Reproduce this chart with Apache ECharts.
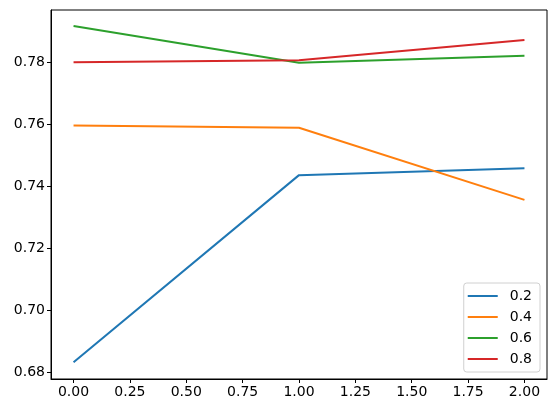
<!DOCTYPE html>
<html>
<head>
<meta charset="utf-8">
<script src="https://cdn.jsdelivr.net/npm/echarts@6/dist/echarts.min.js"></script>
<style>
  html, body { margin: 0; padding: 0; background: #fff; }
  #main { width: 556px; height: 413px; }
</style>
</head>
<body>
<div id="main"></div>
<script>
// x positions and the four series
var xValues = [0, 1, 2];
var seriesNames = ['0.2', '0.4', '0.6', '0.8'];
var s02 = [0.6831, 0.7435, 0.7457];
var s04 = [0.7595, 0.7588, 0.7355];
var s06 = [0.7916, 0.7798, 0.7820];
var s08 = [0.7799, 0.7806, 0.7871];
var xTicks = [0, 0.25, 0.5, 0.75, 1, 1.25, 1.5, 1.75, 2];
var yTicks = [0.68, 0.70, 0.72, 0.74, 0.76, 0.78];
var colors = ['#1f77b4', '#ff7f0e', '#2ca02c', '#d62728'];

var allData = [s02, s04, s06, s08];

function pairs(vals) {
    var out = [];
    for (var i = 0; i < vals.length; i++) {
        out.push([xValues[i], vals[i]]);
    }
    return out;
}

var chart = echarts.init(document.getElementById('main'));

var series = [];
for (var k = 0; k < seriesNames.length; k++) {
    series.push({
        name: seriesNames[k],
        type: 'line',
        data: pairs(allData[k]),
        symbol: 'none',
        showSymbol: false,
        animation: false,
        lineStyle: { width: 2, color: colors[k] },
        itemStyle: { color: colors[k] }
    });
}

var fontFamily = 'DejaVu Sans';

chart.setOption({
    animation: false,
    backgroundColor: '#fff',
    grid: {
        left: 51, right: 9, top: 10, bottom: 34,
        show: true, borderColor: '#000', borderWidth: 1
    },
    legend: {
        orient: 'vertical',
        right: 16,
        bottom: 41,
        icon: 'rect',
        itemWidth: 30,
        itemHeight: 2,
        itemGap: 5,
        padding: [5, 8, 5, 4],
        borderColor: '#d0d0d0',
        borderWidth: 1,
        borderRadius: 3,
        backgroundColor: '#fff',
        textStyle: { fontFamily: fontFamily, fontSize: 14, lineHeight: 16, color: '#000', padding: [0, 0, 0, 7] },
        data: seriesNames
    },
    xAxis: {
        type: 'value',
        min: -0.1,
        max: 2.1,
        splitLine: { show: false },
        axisLine: { show: true, onZero: false, lineStyle: { color: '#000' } },
        axisTick: { show: true, length: 4, lineStyle: { color: '#000' }, customValues: xTicks },
        axisLabel: {
            color: '#000', fontFamily: fontFamily, fontSize: 14, margin: 6,
            customValues: xTicks,
            formatter: function (v) { return v.toFixed(2); }
        }
    },
    yAxis: {
        type: 'value',
        min: 0.6777,
        max: 0.7968,
        splitLine: { show: false },
        axisLine: { show: true, onZero: false, lineStyle: { color: '#000' } },
        axisTick: { show: true, length: 4, lineStyle: { color: '#000' }, customValues: yTicks },
        axisLabel: {
            color: '#000', fontFamily: fontFamily, fontSize: 14, margin: 6,
            customValues: yTicks,
            formatter: function (v) { return v.toFixed(2); }
        }
    },
    series: series
});
</script>
</body>
</html>
